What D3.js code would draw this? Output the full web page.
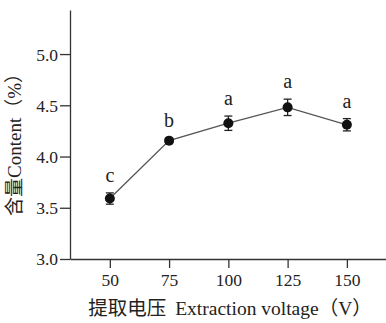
<!DOCTYPE html>
<html><head><meta charset="utf-8">
<script src="https://cdn.jsdelivr.net/npm/d3@7/dist/d3.min.js"></script>
<style>body{margin:0;background:#fff}svg{display:block}</style>
</head><body>
<svg id="c" width="386" height="323"></svg>
<script>
const voltages = [50, 75, 100, 125, 150];
const contents = [3.59, 4.155, 4.325, 4.48, 4.31];
const errors = [0.055, 0.025, 0.07, 0.08, 0.06];
const letters = ["c", "b", "a", "a", "a"];
const yTicks = [3.0, 3.5, 4.0, 4.5, 5.0];
const xTicks = [50, 75, 100, 125, 150];

(function () {
const svg = d3.select("#c");
const serif = "'Liberation Serif','Times New Roman',serif";
const cjk = "'Noto Sans CJK SC',sans-serif";
const mLeft = 70, mBottom = 259, mTop = 10, mRight = 386;
const x = d3.scaleLinear().domain([33.2, 166.5]).range([mLeft, mRight]);
const y = d3.scaleLinear().domain([3.0, 5.43]).range([mBottom, mTop]);

const yAxis = svg.append("g").attr("transform", `translate(${mLeft},0)`)
  .call(d3.axisLeft(y).tickValues(yTicks).tickFormat(d3.format(".1f")).tickSize(10).tickSizeOuter(0));
const xAxis = svg.append("g").attr("transform", `translate(0,${mBottom})`)
  .call(d3.axisBottom(x).tickValues(xTicks).tickSize(9).tickSizeOuter(0));
[xAxis, yAxis].forEach(g => {
  g.select(".domain").attr("stroke", "#333").attr("stroke-width", 1.3);
  g.selectAll(".tick line").attr("stroke", "#333").attr("stroke-width", 1.3);
  g.selectAll("text").attr("fill", "#222").style("font-family", serif).style("font-size", "17.5px");
});
yAxis.selectAll("text").attr("x", -12).attr("dy", "0.34em");
xAxis.selectAll("text").attr("y", 15).attr("dy", "0.71em");

const data = voltages.map((v, i) => ({v, c: contents[i], e: errors[i], l: letters[i]}));

svg.append("path").datum(data)
  .attr("d", d3.line().x(d => x(d.v)).y(d => y(d.c)))
  .attr("fill", "none").attr("stroke", "#555").attr("stroke-width", 1.3);

const eb = svg.append("g").attr("stroke", "#222").attr("stroke-width", 1.3);
data.forEach(d => {
  const cx = x(d.v), y1 = y(d.c + d.e), y2 = y(d.c - d.e);
  eb.append("line").attr("x1", cx).attr("x2", cx).attr("y1", y1).attr("y2", y2);
  eb.append("line").attr("x1", cx - 4).attr("x2", cx + 4).attr("y1", y1).attr("y2", y1);
  eb.append("line").attr("x1", cx - 4).attr("x2", cx + 4).attr("y1", y2).attr("y2", y2);
});

svg.append("g").selectAll("circle").data(data).join("circle")
  .attr("cx", d => x(d.v)).attr("cy", d => y(d.c)).attr("r", 5).attr("fill", "#111");

svg.append("g").selectAll("text").data(data).join("text")
  .attr("x", d => x(d.v)).attr("y", d => y(d.c + d.e) - 11)
  .attr("text-anchor", "middle").attr("fill", "#222")
  .style("font-family", serif).style("font-size", "20px")
  .text(d => d.l);

const xt = svg.append("text").attr("x", 230).attr("y", 315).attr("text-anchor", "middle")
  .attr("fill", "#222").style("font-size", "19.5px");
xt.append("tspan").style("font-family", cjk).text("提取电压");
xt.append("tspan").attr("dx", 9).style("font-family", serif).text("Extraction voltage");
xt.append("tspan").style("font-family", cjk).text("（");
xt.append("tspan").style("font-family", serif).text("V");
xt.append("tspan").style("font-family", cjk).text("）");

const yt = svg.append("text").attr("transform", "translate(21,140) rotate(-90)").attr("text-anchor", "middle")
  .attr("fill", "#222").style("font-size", "19px");
yt.append("tspan").style("font-family", cjk).text("含量");
yt.append("tspan").style("font-family", serif).text("Content");
yt.append("tspan").style("font-family", cjk).text("（");
yt.append("tspan").style("font-family", serif).text("%");
yt.append("tspan").style("font-family", cjk).text("）");
})();
</script>
</body></html>
